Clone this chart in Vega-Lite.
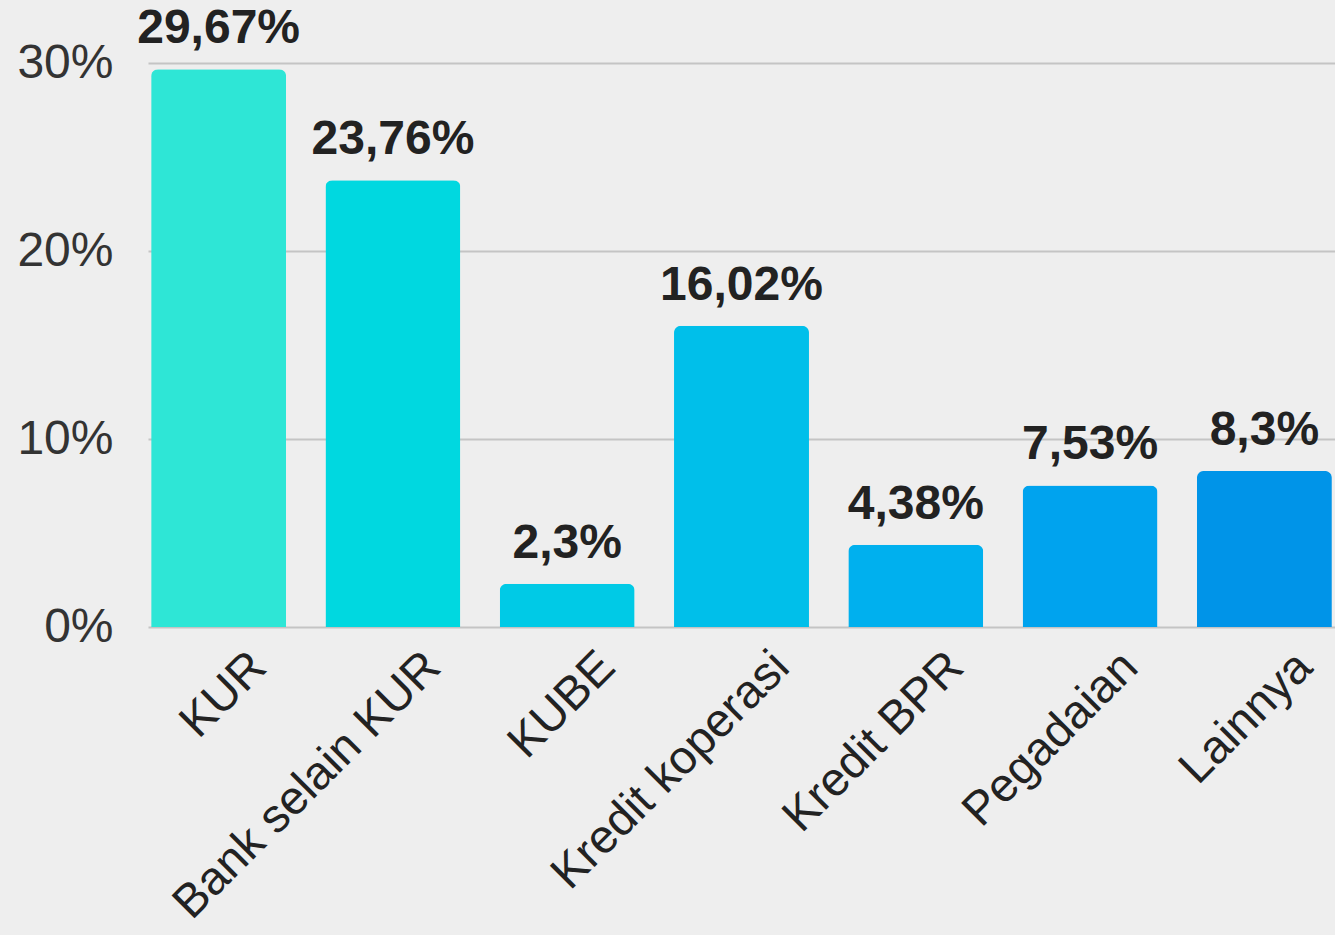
{
  "$schema": "https://vega.github.io/schema/vega-lite/v6.json",
  "autosize": {"type": "none"},
  "width": 1187,
  "height": 564,
  "padding": {"left": 148, "top": 63, "right": 0, "bottom": 308},
  "background": "#eeeeee",
  "config": {"view": {"stroke": null}, "font": "Liberation Sans"},
  "data": {
    "values": [
      {"kategori": "KUR", "nilai": 29.67, "label": "29,67%", "warna": "#2ee6d6"},
      {"kategori": "Bank selain KUR", "nilai": 23.76, "label": "23,76%", "warna": "#00d8e0"},
      {"kategori": "KUBE", "nilai": 2.3, "label": "2,3%", "warna": "#00cae6"},
      {"kategori": "Kredit koperasi", "nilai": 16.02, "label": "16,02%", "warna": "#00bfea"},
      {"kategori": "Kredit BPR", "nilai": 4.38, "label": "4,38%", "warna": "#00b0ee"},
      {"kategori": "Pegadaian", "nilai": 7.53, "label": "7,53%", "warna": "#00a3ee"},
      {"kategori": "Lainnya", "nilai": 8.3, "label": "8,3%", "warna": "#0094e8"}
    ]
  },
  "encoding": {
    "x": {
      "field": "kategori", "type": "nominal", "sort": null,
      "scale": {"paddingInner": 0.2256, "paddingOuter": 0.018},
      "axis": {
        "title": null, "labelAngle": -45, "labelFontSize": 47, "labelColor": "#222222",
        "labelPadding": 16, "labelOffset": 24, "ticks": false, "domain": false, "labelLimit": 0
      }
    },
    "y": {
      "field": "nilai", "type": "quantitative",
      "scale": {"domain": [0, 30]},
      "axis": {
        "title": null, "values": [0, 10, 20, 30], "labelExpr": "datum.value + '%'",
        "labelFontSize": 48, "labelColor": "#333333", "labelPadding": 35,
        "ticks": false, "domain": false, "gridColor": "#c4c4c4", "gridWidth": 2
      }
    }
  },
  "layer": [
    {
      "mark": {"type": "bar", "cornerRadiusTopLeft": 7, "cornerRadiusTopRight": 7, "clip": false},
      "encoding": {"color": {"field": "warna", "type": "nominal", "scale": null}}
    },
    {
      "mark": {"type": "text", "baseline": "alphabetic", "dy": -26, "fontSize": 48, "fontWeight": "bold", "color": "#222222", "clip": false},
      "encoding": {"text": {"field": "label"}}
    }
  ]
}
